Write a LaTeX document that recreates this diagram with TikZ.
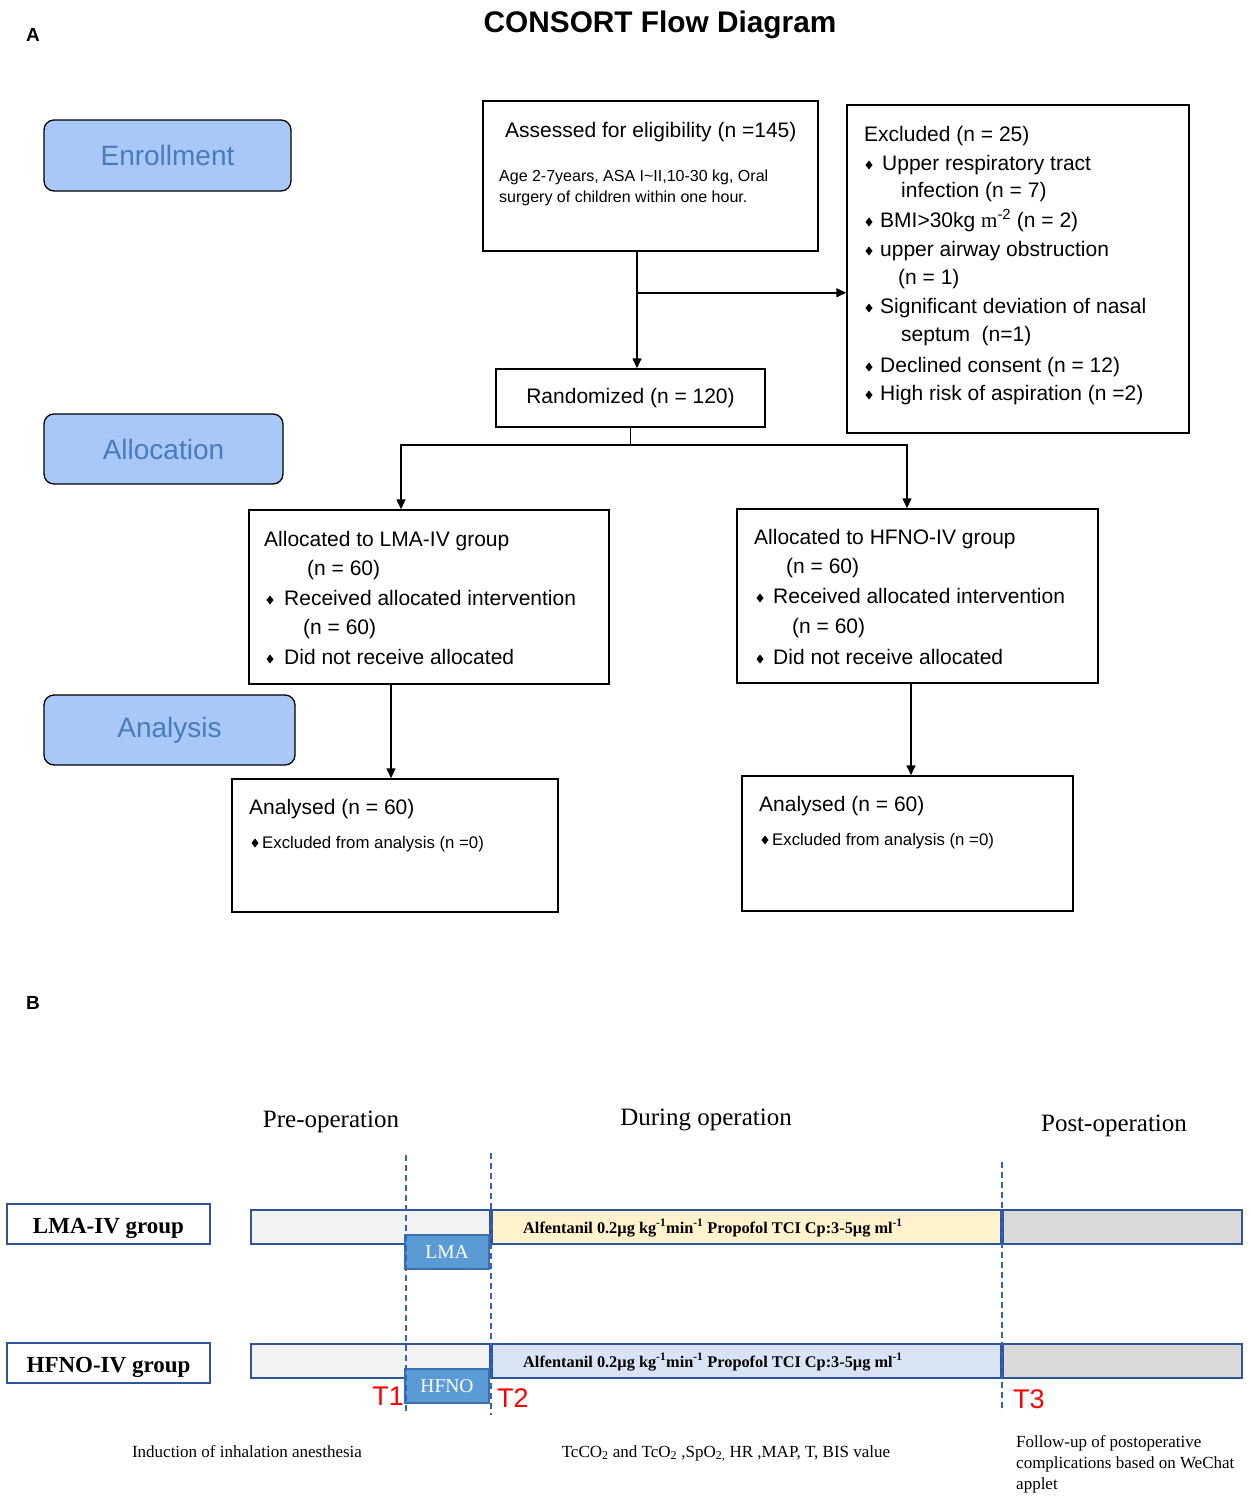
\documentclass[tikz,border=0pt]{standalone}
\usepackage{fontspec}
\setmainfont{Liberation Sans}
\newfontfamily\tms{Liberation Serif}
\usetikzlibrary{arrows.meta,calc}
\definecolor{secfill}{HTML}{A8C8F8}
\definecolor{sectext}{HTML}{4A7BBA}
\definecolor{navy}{HTML}{2F5597}
\definecolor{pregray}{HTML}{F2F2F2}
\definecolor{durY}{HTML}{FFF2CC}
\definecolor{durB}{HTML}{DAE3F3}
\definecolor{postg}{HTML}{D9D9D9}
\definecolor{devblue}{HTML}{5B9BD5}
\definecolor{devborder}{HTML}{3D6FA8}
\definecolor{dashblue}{HTML}{2F62C4}
\definecolor{tred}{HTML}{FF0000}
\newcommand\bul[2]{\fill (#1,#2) +(0,-4.5) -- +(3.5,0) -- +(0,4.5) -- +(-3.5,0) -- cycle;}
\begin{document}
\begin{tikzpicture}[x=1pt,y=-1pt,
  box/.style={draw=black, line width=1.5pt, fill=white, inner sep=0pt},
  sec/.style={draw=black, line width=1.3pt, fill=secfill, rounded corners=10pt, inner sep=0pt, text=sectext, font=\fontsize{28}{30}\selectfont},
  tl/.style={anchor=base west, inner sep=0pt, font=\fontsize{21}{25}\selectfont},
  ts/.style={anchor=base west, inner sep=0pt, font=\fontsize{16}{19}\selectfont},
  tx/.style={anchor=base west, inner sep=0pt, font=\fontsize{16.8}{19}\selectfont},
  arr/.style={-{Triangle[length=10pt,width=9pt]}, line width=1.5pt},
  grp/.style={draw=navy, line width=1.8pt, fill=white, inner sep=0pt, text height=18pt, text depth=0pt, font=\tms\bfseries\fontsize{23}{25}\selectfont},
  bar/.style={draw=navy, line width=1.8pt, inner sep=0pt, minimum height=34pt},
  dev/.style={draw=devborder, line width=1.5pt, fill=devblue, inner sep=0pt, text=white, minimum width=84pt, minimum height=34pt, font=\tms\fontsize{19.5}{20}\selectfont},
  alf/.style={anchor=west, inner sep=0pt, font=\tms\bfseries\fontsize{16.3}{18}\selectfont},
  dashline/.style={draw=dashblue, line width=1.6pt, dash pattern=on 6pt off 4pt},
  tlab/.style={inner sep=0pt, text=tred, font=\fontsize{27}{28}\selectfont},
  phase/.style={anchor=base, inner sep=0pt, font=\tms\fontsize{25}{27}\selectfont},
  note/.style={inner sep=0pt, font=\tms\fontsize{17}{20}\selectfont}
]
\useasboundingbox (0,0) rectangle (1248,1496);
\fill[white] (0,0) rectangle (1248,1496);

% ---------- Part A ----------
\node[anchor=base west, inner sep=0pt, font=\bfseries\fontsize{19}{20}\selectfont] (labA) at (26,42) {A};
\node[anchor=base, inner sep=0pt, font=\bfseries\fontsize{29.8}{31}\selectfont] (title) at (660,33) {CONSORT Flow Diagram};

\node[sec, minimum width=247pt, minimum height=71pt] (enr) at (167.5,155.5) {Enrollment};
\node[sec, minimum width=239pt, minimum height=70pt] (alc) at (163.5,449) {Allocation};
\node[sec, minimum width=251pt, minimum height=70pt] (ana) at (169.5,730) {Analysis};

\node[box, minimum width=335pt, minimum height=150pt] (assess) at (650.5,176) {};
\node[tl] (as1) at (505,137) {Assessed for eligibility (n =145)};
\node[ts] (as2) at (499,181) {Age 2-7years, ASA I\textasciitilde II,10-30 kg, Oral};
\node[ts] (as3) at (499,202) {surgery of children within one hour.};

\node[box, minimum width=342pt, minimum height=328pt] (excl) at (1018,269) {};
\node[tl] (ex0) at (864,141) {Excluded (n = 25)};
\bul{869}{165}
\node[tl] (ex1) at (882,170) {Upper respiratory tract};
\node[tl] (ex1b) at (901,197) {infection (n = 7)};
\bul{869}{222}
\node[tl] (ex2) at (880,227) {BMI>30kg {\tms m}\textsuperscript{-2} (n = 2)};
\bul{869}{251}
\node[tl] (ex3) at (880,256) {upper airway obstruction};
\node[tl] (ex3b) at (898,284) {(n = 1)};
\bul{869}{308}
\node[tl] (ex4) at (880,313) {Significant deviation of nasal};
\node[tl] (ex4b) at (901,341) {septum\ \ (n=1)};
\bul{869}{367}
\node[tl] (ex5) at (880,372) {Declined consent (n = 12)};
\bul{869}{395}
\node[tl] (ex6) at (880,400) {High risk of aspiration (n =2)};

\node[box, minimum width=269pt, minimum height=58pt, font=\fontsize{21}{25}\selectfont] (rand) at (630.5,398) {Randomized (n = 120)};

\node[box, minimum width=360pt, minimum height=174pt] (allocL) at (429,597) {};
\node[tl] (aL1) at (264,546) {Allocated to LMA-IV group};
\node[tl] (aL2) at (307,575) {(n = 60)};
\bul{270}{600}
\node[tl] (aL3) at (284,605) {Received allocated intervention};
\node[tl] (aL4) at (303,634) {(n = 60)};
\bul{270}{659}
\node[tl] (aL5) at (284,664) {Did not receive allocated};

\node[box, minimum width=361pt, minimum height=174pt] (allocR) at (917.5,596) {};
\node[tl] (aR1) at (754,544) {Allocated to HFNO-IV group};
\node[tl] (aR2) at (786,573) {(n = 60)};
\bul{760}{598}
\node[tl] (aR3) at (773,603) {Received allocated intervention};
\node[tl] (aR4) at (792,633) {(n = 60)};
\bul{760}{659}
\node[tl] (aR5) at (773,664) {Did not receive allocated};

\node[box, minimum width=326pt, minimum height=133pt] (anaL) at (395,845.5) {};
\node[tl] (nL1) at (249,814) {Analysed (n = 60)};
\bul{255}{843}
\node[tx] (nL2) at (262,848) {Excluded from analysis (n =0)};

\node[box, minimum width=331pt, minimum height=135pt] (anaR) at (907.5,843.5) {};
\node[tl] (nR1) at (759,811) {Analysed (n = 60)};
\bul{765}{840}
\node[tx] (nR2) at (772,845) {Excluded from analysis (n =0)};

% connectors
\draw[arr] ([xshift=-13.5pt]assess.south) -- ([xshift=-13.5pt]assess.south |- rand.north);
\coordinate (br) at ($([xshift=-13.5pt]assess.south)+(0,41)$);
\draw[arr] (br) -- (br -| excl.west);
\draw[line width=1.5pt] (rand.south) -- ++(0,17) coordinate (sp);
\draw[arr] (sp) -| ([xshift=-28pt]allocL.north);
\draw[arr] (sp) -| ([xshift=-10.5pt]allocR.north);
\draw[arr] ([xshift=-38pt]allocL.south) -- ([xshift=-38pt]allocL.south |- anaL.north);
\draw[arr] ([xshift=-6.5pt]allocR.south) -- ([xshift=-6.5pt]allocR.south |- anaR.north);

% ---------- Part B ----------
\node[anchor=base west, inner sep=0pt, font=\bfseries\fontsize{19}{20}\selectfont] (labB) at (26,1009) {B};

\node[phase] (ph1) at (331,1127) {Pre-operation};
\node[phase] (ph2) at (706,1125) {During operation};
\node[phase] (ph3) at (1114,1131) {Post-operation};

\node[grp, minimum width=203pt, minimum height=40pt] (g1) at (108.5,1224) {LMA-IV group};
\node[grp, minimum width=203pt, minimum height=40pt] (g2) at (108.5,1363) {HFNO-IV group};

\node[bar, fill=pregray, minimum width=239pt] (pre1) at (370.5,1227) {};
\node[bar, fill=durY, minimum width=509pt] (dur1) at (746.5,1227) {};
\node[bar, fill=postg, minimum width=239pt] (post1) at (1122.5,1227) {};
\node[dev] (lma) at (447,1252) {LMA};
\node[alf] (alf1) at (523,1228) {Alfentanil 0.2µg kg\textsuperscript{-1}min\textsuperscript{-1} Propofol TCI Cp:3-5µg ml\textsuperscript{-1}};

\node[bar, fill=pregray, minimum width=239pt] (pre2) at (370.5,1361) {};
\node[bar, fill=durB, minimum width=509pt] (dur2) at (746.5,1361) {};
\node[bar, fill=postg, minimum width=239pt] (post2) at (1122.5,1361) {};
\node[dev] (hfno) at (447,1386) {HFNO};
\node[alf] (alf2) at (523,1362) {Alfentanil 0.2µg kg\textsuperscript{-1}min\textsuperscript{-1} Propofol TCI Cp:3-5µg ml\textsuperscript{-1}};

\draw[dashline] (406,1155) -- (406,1412);
\draw[dashline] (491,1153) -- (491,1415);
\draw[dashline] (1002,1162) -- (1002,1412);

\node[tlab, anchor=base east] (t1) at (404,1405) {T1};
\node[tlab, anchor=base west] (t2) at (497,1407) {T2};
\node[tlab, anchor=base west] (t3) at (1013,1408) {T3};

\node[note, anchor=base] (n1) at (247,1457) {Induction of inhalation anesthesia};
\node[note, anchor=base] (n2) at (726,1457) {TcCO\textsubscript{2} and TcO\textsubscript{2} ,SpO\textsubscript{2,} HR ,MAP, T, BIS value};
\node[note, anchor=base west] (n3a) at (1016,1447) {Follow-up of postoperative};
\node[note, anchor=base west] (n3b) at (1016,1468) {complications based on WeChat};
\node[note, anchor=base west] (n3c) at (1016,1489) {applet};
\end{tikzpicture}
\end{document}
